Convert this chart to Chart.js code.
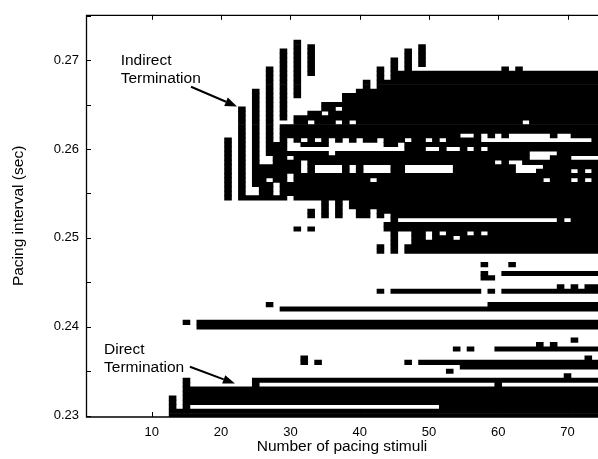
<!DOCTYPE html>
<html>
<head>
<meta charset="utf-8">
<script src="https://cdn.jsdelivr.net/npm/chart.js@4.4.1/dist/chart.umd.min.js"></script>
<style>
  html, body { margin: 0; padding: 0; background: #fff; }
</style>
</head>
<body>
<canvas id="chart" width="598" height="459"></canvas>
<script>
// tick values
const stimulusTicks = [10, 20, 30, 40, 50, 60, 70];
const intervalTicks = [0.23, 0.235, 0.24, 0.245, 0.25, 0.255, 0.26, 0.265, 0.27, 0.275];

// grid of the map: stimuli 1..74, pacing interval 230..275 ms in 0.5 ms steps
const stimuli = 74;
const intervalStart = 230, intervalStep = 0.5, intervalRows = 91;

// black regions: [from stimulus, to stimulus, from interval (ms), to interval (ms)]
const blackBlocks = [
  [21, 21, 254.5, 261], [23, 23, 254.5, 264.5], [24, 25, 254.5, 254.5], [25, 25, 256, 266.5],
  [26, 27, 254.5, 258], [27, 27, 259.5, 269], [28, 28, 254.5, 260.5],
  [29, 30, 254.5, 262.5], [29, 29, 263.5, 271], [31, 32, 254.5, 263.5], [31, 31, 266, 272],
  [33, 34, 254.5, 264], [33, 33, 268.5, 271.5], [35, 36, 254.5, 265], [35, 35, 252.5, 254],
  [33, 33, 252.5, 253], [31, 31, 251, 251], [33, 33, 251, 251],
  [37, 37, 252.5, 265], [38, 38, 254.5, 266], [39, 39, 253.5, 266], [40, 40, 252.5, 266.5],
  [41, 41, 252.5, 267.5], [42, 42, 253.5, 266.5], [43, 43, 252.5, 269], [44, 44, 253, 267.5],
  [45, 45, 248.5, 270], [46, 46, 252.5, 268.5], [47, 47, 252.5, 271], [48, 54, 252.5, 268.5],
  [49, 49, 269.5, 271.5], [55, 74, 248.5, 268.5], [61, 61, 269, 269], [63, 63, 269, 269],
  [44, 44, 251, 251.5], [46, 46, 251, 251.5], [47, 54, 248.5, 251.5], [43, 43, 248.5, 249],
  [58, 58, 247, 247], [62, 62, 247, 247],
  [58, 58, 245.5, 246], [61, 74, 246, 246], [59, 59, 245.5, 245.5],
  [69, 69, 244.5, 244.5], [71, 71, 244.5, 244.5], [73, 74, 244.5, 244.5],
  [43, 43, 244, 244], [45, 74, 244, 244],
  [27, 27, 242.5, 242.5], [59, 74, 242.5, 242.5], [29, 74, 242, 242],
  [17, 74, 240, 240.5], [15, 15, 240.5, 240.5],
  [71, 71, 238.5, 238.5], [66, 66, 238, 238], [68, 68, 238, 238],
  [54, 54, 237.5, 237.5], [56, 56, 237.5, 237.5], [60, 74, 237.5, 237.5],
  [32, 32, 236, 236.5], [73, 73, 236.5, 236.5],
  [34, 34, 236, 236], [47, 47, 236, 236], [49, 74, 236, 236],
  [55, 74, 235.5, 235.5], [53, 53, 235, 235], [70, 70, 234.5, 234.5],
  [25, 74, 234, 234], [15, 15, 230.5, 234], [25, 25, 233.5, 233.5], [60, 60, 233.5, 233.5],
  [16, 74, 231.5, 233], [52, 74, 231, 231], [13, 74, 230, 230.5], [13, 13, 230, 232]
];

// white cells inside the black regions
const whiteHoles = [
  [27, 27, 256.5, 256.5], [28, 28, 255, 256], [30, 30, 254.5, 254.5], [30, 30, 256.5, 257],
  [30, 30, 259, 259], [30, 31, 260, 260.5], [30, 30, 261, 261],
  [32, 32, 261, 261], [34, 34, 261, 261], [36, 36, 261, 261],
  [30, 46, 260, 260], [36, 43, 260.5, 260.5], [46, 46, 260.5, 260.5], [36, 36, 259.5, 259.5],
  [32, 32, 257.5, 258.5], [34, 37, 257.5, 258], [39, 39, 257.5, 258], [41, 44, 257.5, 258],
  [47, 53, 257.5, 258], [33, 33, 263, 263], [35, 35, 264, 264],
  [37, 37, 264.5, 264.5], [37, 37, 263, 263], [39, 39, 263, 263],
  [38, 38, 261, 261], [40, 40, 261, 261], [43, 43, 261, 261], [47, 47, 261, 261],
  [50, 50, 261, 261], [52, 52, 261, 261], [42, 42, 256.5, 256.5],
  [50, 51, 260, 260], [53, 54, 260, 260],
  [55, 56, 261.5, 261.5], [58, 58, 261.5, 261.5], [60, 60, 261.5, 261.5], [62, 67, 261.5, 261.5],
  [69, 70, 261.5, 261.5], [58, 73, 261, 261], [64, 64, 263, 263],
  [56, 56, 260, 260], [58, 58, 260, 260], [65, 67, 259, 259.5], [68, 68, 259.5, 259.5],
  [71, 74, 259, 259], [60, 60, 258.5, 258.5], [62, 63, 258.5, 258.5],
  [63, 66, 258, 258], [63, 65, 257.5, 257.5], [71, 71, 257.5, 257.5], [73, 73, 257.5, 257.5],
  [67, 67, 256.5, 256.5], [71, 71, 256.5, 256.5], [73, 73, 256.5, 256.5],
  [46, 68, 252, 252], [70, 70, 252, 252], [56, 56, 250.5, 250.5], [58, 58, 250.5, 250.5],
  [47, 47, 249.5, 250.5], [50, 50, 250, 250.5], [52, 52, 250.5, 250.5], [54, 54, 250, 250],
  [58, 58, 244, 244], [60, 60, 244, 244]
];

// build the on/off map, then turn each row into horizontal runs
const rowOf = ms => Math.round((ms - intervalStart) / intervalStep);
const cells = Array.from({ length: intervalRows }, () => new Array(stimuli + 1).fill(false));
function paint(list, on) {
  list.forEach(([c0, c1, m0, m1]) => {
    for (let k = rowOf(m0); k <= rowOf(m1); k++)
      for (let c = c0; c <= c1; c++) cells[k][c] = on;
  });
}
paint(blackBlocks, true);
paint(whiteHoles, false);

const runs = [];
cells.forEach((row, k) => {
  let c = 1;
  while (c <= stimuli) {
    if (row[c]) {
      let e = c;
      while (e < stimuli && row[e + 1]) e++;
      runs.push({ x: [c - 0.5, e + 0.5], y: (intervalStart + k * intervalStep) / 1000 });
      c = e + 1;
    } else c++;
  }
});

const font = 'Liberation Sans, Arial, Helvetica, sans-serif';

// box, inward ticks and the two notes
const decorations = {
  id: 'decorations',
  afterDraw(chart) {
    const { ctx, chartArea: a, scales: { x, y } } = chart;
    ctx.save();
    ctx.strokeStyle = '#000';
    ctx.lineWidth = 1;
    ctx.beginPath();
    stimulusTicks.forEach(v => {
      const px = Math.round(x.getPixelForValue(v)) + 0.5;
      ctx.moveTo(px, a.bottom); ctx.lineTo(px, a.bottom - 5);
      ctx.moveTo(px, a.top); ctx.lineTo(px, a.top + 5);
    });
    intervalTicks.forEach(v => {
      const py = Math.round(y.getPixelForValue(v)) + 0.5;
      ctx.moveTo(a.left, py); ctx.lineTo(a.left + 5, py);
    });
    ctx.stroke();
    ctx.lineWidth = 1.3;
    ctx.beginPath();
    ctx.moveTo(a.right + 2, a.top + 0.5);
    ctx.lineTo(a.left + 0.5, a.top + 0.5);
    ctx.lineTo(a.left + 0.5, a.bottom);
    ctx.lineTo(a.right + 2, a.bottom);
    ctx.stroke();

    ctx.fillStyle = '#000';
    ctx.font = '15.5px ' + font;
    ctx.textBaseline = 'alphabetic';
    const notes = [
      { lines: ['Indirect', 'Termination'], at: [5.5, 0.26944], gap: 0.002, from: [15.66, 0.2670], to: [22.3, 0.26478] },
      { lines: ['Direct', 'Termination'], at: [3.1, 0.23695], gap: 0.002, from: [15.5, 0.23551], to: [22.0, 0.23362] }
    ];
    notes.forEach(n => {
      n.lines.forEach((t, i) => ctx.fillText(t, x.getPixelForValue(n.at[0]), y.getPixelForValue(n.at[1] - i * n.gap)));
      const x0 = x.getPixelForValue(n.from[0]), y0 = y.getPixelForValue(n.from[1]);
      const x1 = x.getPixelForValue(n.to[0]), y1 = y.getPixelForValue(n.to[1]);
      const ang = Math.atan2(y1 - y0, x1 - x0), len = 12, half = 4.5;
      const bx = x1 - len * Math.cos(ang), by = y1 - len * Math.sin(ang);
      ctx.lineWidth = 2;
      ctx.beginPath(); ctx.moveTo(x0, y0); ctx.lineTo(bx, by); ctx.stroke();
      ctx.beginPath();
      ctx.moveTo(x1, y1);
      ctx.lineTo(bx + half * Math.sin(ang), by - half * Math.cos(ang));
      ctx.lineTo(bx - half * Math.sin(ang), by + half * Math.cos(ang));
      ctx.closePath(); ctx.fill();
    });
    ctx.restore();
  }
};

new Chart(document.getElementById('chart').getContext('2d'), {
  type: 'bar',
  data: {
    datasets: [{
      data: runs,
      backgroundColor: '#000',
      borderWidth: 0,
      barPercentage: 1,
      categoryPercentage: 1,
      grouped: false
    }]
  },
  options: {
    indexAxis: 'y',
    responsive: false,
    animation: false,
    layout: { padding: { top: 9, right: 0, bottom: 0, left: 0 } },
    plugins: { legend: { display: false }, tooltip: { enabled: false } },
    scales: {
      x: {
        type: 'linear',
        min: 0.5,
        max: 74.4,
        offset: false,
        grid: { display: false, drawTicks: false },
        border: { display: false },
        afterBuildTicks: s => { s.ticks = stimulusTicks.map(v => ({ value: v })); },
        afterFit: s => { s.height = 42; },
        ticks: { color: '#000', padding: 8, maxRotation: 0, font: { family: font, size: 13 } },
        title: { display: true, text: 'Number of pacing stimuli', color: '#000', padding: { top: 0, bottom: 3 }, font: { family: font, size: 15.5 } }
      },
      y: {
        type: 'linear',
        min: 0.22986,
        max: 0.27509,
        offset: false,
        grid: { display: false, drawTicks: false },
        border: { display: false },
        afterBuildTicks: s => { s.ticks = intervalTicks.map(v => ({ value: v })); },
        afterFit: s => { s.width = 86; },
        ticks: {
          color: '#000', padding: 7, font: { family: font, size: 13 },
          callback: v => (Math.abs(v * 100 - Math.round(v * 100)) < 1e-6 ? v.toFixed(2) : '')
        },
        title: { display: true, text: 'Pacing interval (sec)', color: '#000', padding: { top: 9, bottom: 0 }, font: { family: font, size: 15.5 } }
      }
    }
  },
  plugins: [decorations]
});
</script>
</body>
</html>
